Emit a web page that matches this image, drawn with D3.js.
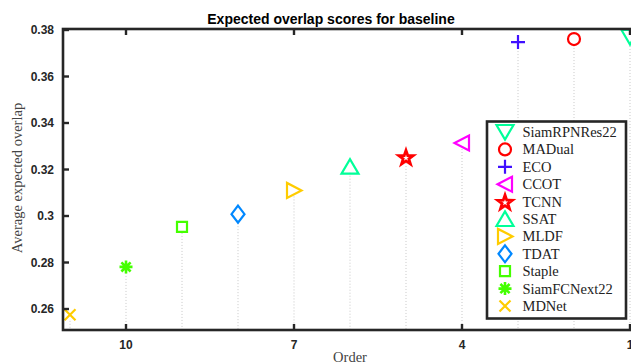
<!DOCTYPE html>
<html><head><meta charset="utf-8">
<script src="https://cdn.jsdelivr.net/npm/d3@7"></script>
<style>body{margin:0;background:#fff;}svg{display:block;}</style>
</head><body>
<svg id="c" width="631" height="364"></svg>
<script>
const trackers = ["SiamRPNRes22","MADual","ECO","CCOT","TCNN","SSAT","MLDF","TDAT","Staple","SiamFCNext22","MDNet"];
const orders   = [1,2,3,4,5,6,7,8,9,10,11];
const scores   = [0.3770,0.3761,0.3748,0.3314,0.3254,0.3212,0.3110,0.3008,0.2953,0.2781,0.2575];
const colors   = ["#00FF99","#FF0000","#4010FF","#FF00FF","#FF0000","#00FF99","#FFCC00","#0088FF","#44FF00","#44FF00","#FFCC00"];
const shapes   = ["tdown","circle","plus","tleft","star","tup","tright","diamond","square","asterisk","x"];
const xTicks   = [10,7,4,1];
const yTicks   = [0.26,0.28,0.30,0.32,0.34,0.36,0.38];

const svg = d3.select("#c");
const L=63, R=637, T=29, B=330;
const x = d3.scaleLinear().domain([11.125,0.875]).range([L,R]);
const y = d3.scaleLinear().domain([0.25097,0.38043]).range([B,T]);
const axisCol = "#262626";

function markerPath(shape){
  const p = d3.path();
  switch(shape){
    case "tdown": p.moveTo(-8.5,-7);p.lineTo(8.5,-7);p.lineTo(0,7.5);p.closePath();break;
    case "tup": p.moveTo(-8.5,7);p.lineTo(8.5,7);p.lineTo(0,-7.5);p.closePath();break;
    case "tleft": p.moveTo(7,-7.5);p.lineTo(7,7.5);p.lineTo(-7.5,0);p.closePath();break;
    case "tright": p.moveTo(-7,-7.5);p.lineTo(-7,7.5);p.lineTo(7.5,0);p.closePath();break;
    case "circle": p.arc(0,0,6,0,2*Math.PI);break;
    case "plus": p.moveTo(-7,0);p.lineTo(7,0);p.moveTo(0,-7);p.lineTo(0,7);break;
    case "diamond": p.moveTo(0,-8.5);p.lineTo(6.5,0);p.lineTo(0,8.5);p.lineTo(-6.5,0);p.closePath();break;
    case "square": p.rect(-5,-5,10,10);break;
    case "asterisk": for(let k=0;k<4;k++){const a=k*Math.PI/4;p.moveTo(-6.5*Math.cos(a),-6.5*Math.sin(a));p.lineTo(6.5*Math.cos(a),6.5*Math.sin(a));}break;
    case "x": p.moveTo(-5.5,-5.5);p.lineTo(5.5,5.5);p.moveTo(5.5,-5.5);p.lineTo(-5.5,5.5);break;
    case "star": {
      const ro=7.6, ri=3.0;
      for(let k=0;k<10;k++){const r=k%2?ri:ro;const a=-Math.PI/2+k*Math.PI/5;
        const px=r*Math.cos(a), py=r*Math.sin(a)+1; if(k===0)p.moveTo(px,py);else p.lineTo(px,py);}
      p.closePath();break;}
  }
  return p.toString();
}
function sw(shape){ return shape==="star"?2.8:(shape==="asterisk"?2.6:2.2); }

const data = trackers.map((n,i)=>({name:n,order:orders[i],score:scores[i],color:colors[i],shape:shapes[i]}));

// dotted stems
svg.append("g").selectAll("line").data(data).join("line")
  .attr("x1",d=>x(d.order)).attr("x2",d=>x(d.order))
  .attr("y1",d=>y(d.score)+6).attr("y2",B)
  .attr("stroke","#c8c8c8").attr("stroke-width",1).attr("stroke-dasharray","1,2");

// markers
svg.append("g").selectAll("path").data(data).join("path")
  .attr("transform",d=>`translate(${x(d.order)},${y(d.score)})`)
  .attr("d",d=>markerPath(d.shape))
  .attr("fill","none")
  .attr("stroke",d=>d.color).attr("stroke-width",d=>sw(d.shape)).attr("stroke-linejoin","miter");

// axes box
const gA = svg.append("g");
gA.append("rect").attr("x",L).attr("y",T).attr("width",R-L).attr("height",B-T)
  .attr("fill","none").attr("stroke",axisCol).attr("stroke-width",2.6);

// ticks
const tl=6;
xTicks.forEach(t=>{
  gA.append("line").attr("x1",x(t)).attr("x2",x(t)).attr("y1",B).attr("y2",B-tl).attr("stroke",axisCol).attr("stroke-width",2.4);
  gA.append("line").attr("x1",x(t)).attr("x2",x(t)).attr("y1",T).attr("y2",T+tl).attr("stroke",axisCol).attr("stroke-width",2.4);
  gA.append("text").attr("x",x(t)).attr("y",349).attr("text-anchor","middle")
    .attr("font-family","Liberation Sans, Arial, sans-serif").attr("font-weight","bold").attr("font-size",12)
    .attr("fill",axisCol).text(d3.format("d")(t));
});
yTicks.forEach(t=>{
  gA.append("line").attr("x1",L).attr("x2",L+tl).attr("y1",y(t)).attr("y2",y(t)).attr("stroke",axisCol).attr("stroke-width",2.4);
  gA.append("line").attr("x1",R).attr("x2",R-tl).attr("y1",y(t)).attr("y2",y(t)).attr("stroke",axisCol).attr("stroke-width",2.4);
  gA.append("text").attr("x",54).attr("y",y(t)+4.3).attr("text-anchor","end")
    .attr("font-family","Liberation Sans, Arial, sans-serif").attr("font-weight","bold").attr("font-size",12)
    .attr("fill",axisCol).text(t===0.3?"0.3":d3.format(".2f")(t));
});

// title
svg.append("text").attr("x",331).attr("y",23.5).attr("text-anchor","middle")
  .attr("font-family","Liberation Sans, Arial, sans-serif").attr("font-weight","bold").attr("font-size",14)
  .attr("fill","#000").text("Expected overlap scores for baseline");

// axis labels
svg.append("text").attr("transform","translate(22,178) rotate(-90)").attr("text-anchor","middle")
  .attr("font-family","Liberation Serif, serif").attr("font-size",14.5).attr("fill","#444")
  .text("Average expected overlap");
svg.append("text").attr("x",350).attr("y",362).attr("text-anchor","middle")
  .attr("font-family","Liberation Serif, serif").attr("font-size",14.5).attr("fill","#444")
  .text("Order");

// legend
const lg = svg.append("g");
lg.append("rect").attr("x",487).attr("y",121.5).attr("width",139).attr("height",197)
  .attr("fill","#fff").attr("stroke",axisCol).attr("stroke-width",2.6);
const ly = d3.scaleLinear().domain([0,10]).range([132,306]);
const rows = lg.selectAll("g.row").data(data).join("g").attr("class","row")
  .attr("transform",(d,i)=>`translate(0,${ly(i)})`);
rows.append("path").attr("transform","translate(505,0)").attr("d",d=>markerPath(d.shape))
  .attr("fill","none").attr("stroke",d=>d.color).attr("stroke-width",d=>sw(d.shape));
rows.append("text").attr("x",522.5).attr("y",5).attr("font-family","Liberation Serif, serif")
  .attr("font-size",14.5).attr("fill","#222").text(d=>d.name);
</script>
</body></html>
